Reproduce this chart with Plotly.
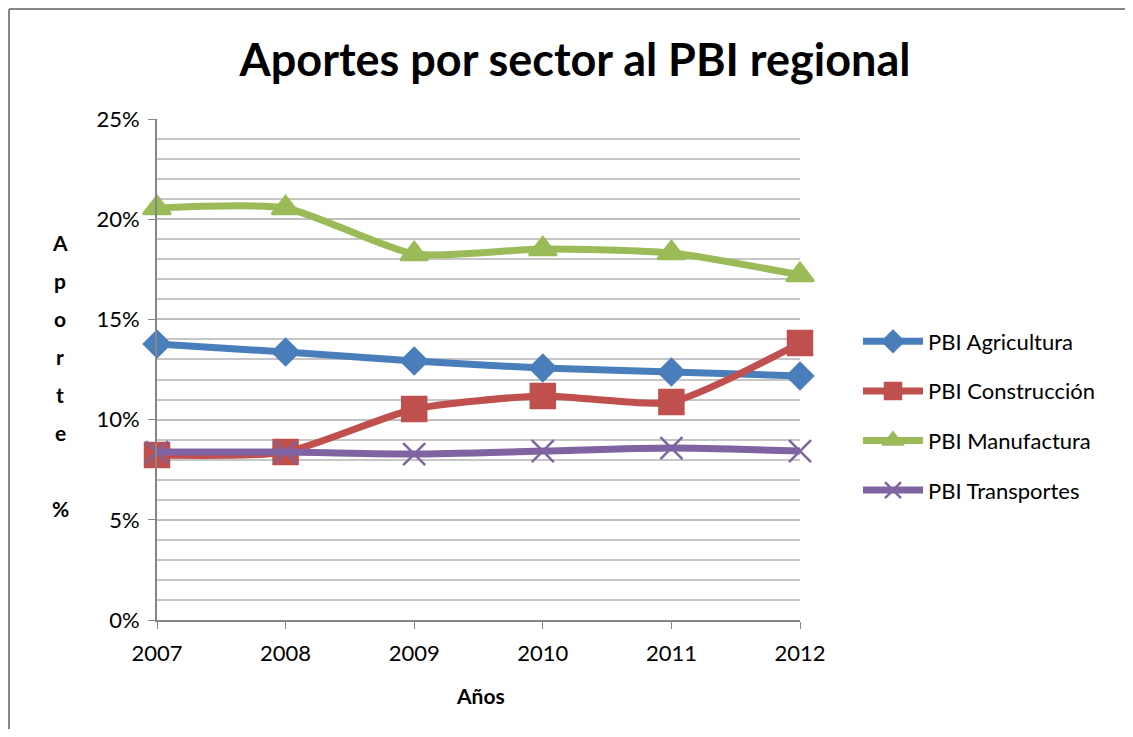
import plotly.graph_objects as go

years = [2007, 2008, 2009, 2010, 2011, 2012]
agricultura = [0.1377, 0.1337, 0.1292, 0.1257, 0.1238, 0.1218]
construccion = [0.0823, 0.0838, 0.1053, 0.1118, 0.1088, 0.1382]
manufactura = [0.2056, 0.2056, 0.1826, 0.1851, 0.1831, 0.1722]
transportes = [0.0838, 0.0838, 0.0828, 0.0843, 0.0858, 0.0843]

series = [
    ("PBI Agricultura", agricultura, "#4A7EBB", "diamond", 20),
    ("PBI Construcción", construccion, "#C0504D", "square", 24),
    ("PBI Manufactura", manufactura, "#9BBB59", "triangle-up", 24),
    ("PBI Transportes", transportes, "#8064A2", "x-thin", 22),
]

FONT = "Lato, Calibri, 'Open Sans', sans-serif"

fig = go.Figure()
for i, (name, vals, color, sym, size) in enumerate(series):
    fig.add_trace(go.Scatter(
        x=years, y=vals, name=name, mode="lines+markers",
        line=dict(color=color, width=7, shape="spline", smoothing=0.6),
        marker=dict(symbol=sym, size=size, color=color,
                    line=dict(color=color, width=2.5)),
        cliponaxis=False, legendgroup=str(i),
    ))

# the page body adds an 8px margin, so figure coords = reference coords - 8
O = 8
W, H = 1117, 721
L, R, T, B = 157 - O, 800 - O, 119 - O, 620 - O
pw, ph = R - L, B - T


def px(x):
    return (x - O - L) / pw


def py(y):
    return (B - (y - O)) / ph


fig.update_layout(
    width=W, height=H,
    margin=dict(l=L, r=W - R, t=T, b=H - B),
    paper_bgcolor="white", plot_bgcolor="white",
    font=dict(family=FONT, size=22, color="#000000"),
    title=dict(text="<b>Aportes por sector al PBI regional</b>",
               x=(575 - O) / W, xanchor="center", xref="container",
               y=1 - (60 - O) / H, yanchor="middle", yref="container",
               font=dict(size=45, family=FONT)),
    showlegend=True,
    legend=dict(x=px(858), xanchor="left", y=py(416), yanchor="middle",
                font=dict(size=22), tracegroupgap=18, itemwidth=60,
                bgcolor="rgba(0,0,0,0)"),
    xaxis=dict(range=[2007, 2012], tickmode="array", tickvals=years,
               ticktext=[str(y) for y in years],
               showgrid=False, zeroline=False,
               showline=True, linecolor="#868686", linewidth=2,
               ticks="outside", ticklen=7, tickcolor="#868686",
               tickfont=dict(size=22), ticklabelstandoff=6),
    yaxis=dict(range=[0, 0.25], dtick=0.05, tickformat=".0%",
               showgrid=True, gridcolor="#BFBFBF", gridwidth=1.5,
               minor=dict(dtick=0.01, showgrid=True, gridcolor="#C6C6C6", gridwidth=1.5),
               zeroline=False, showline=True, linecolor="#868686", linewidth=2,
               ticks="outside", ticklen=7, tickcolor="#868686",
               tickfont=dict(size=22), ticklabelstandoff=4),
)

# Axis titles
fig.add_annotation(text="<b>Años</b>", xref="paper", yref="paper",
                   x=px(480), y=py(695), showarrow=False, yanchor="middle",
                   font=dict(size=21, family=FONT))
letters = ["A", "p", "o", "r", "t", "e", "%"]
letter_y = [242, 280, 318, 356, 394, 432, 508]
for c, yy in zip(letters, letter_y):
    fig.add_annotation(text=f"<b>{c}</b>", xref="paper", yref="paper",
                       x=px(60), y=py(yy), showarrow=False,
                       xanchor="center", yanchor="middle",
                       font=dict(size=21, family=FONT))

# Outer border (top and left edges visible in the reference)
fig.add_shape(type="line", xref="paper", yref="paper",
              x0=px(9), x1=px(1200), y0=py(9), y1=py(9),
              line=dict(color="#868686", width=2), layer="below")
fig.add_shape(type="line", xref="paper", yref="paper",
              x0=px(9), x1=px(9), y0=py(9), y1=py(800),
              line=dict(color="#868686", width=2), layer="below")

fig.write_html("out.html")
